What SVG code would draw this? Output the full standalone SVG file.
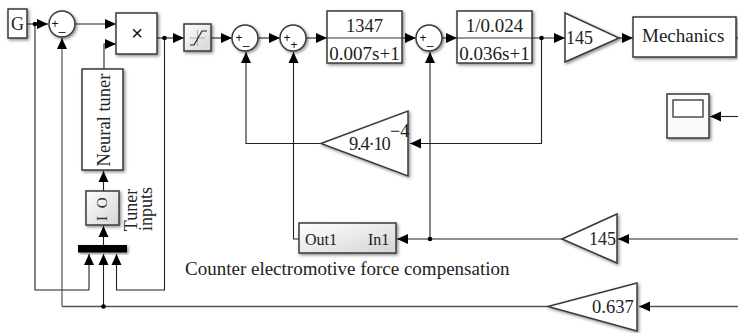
<svg xmlns="http://www.w3.org/2000/svg" width="738" height="333" viewBox="0 0 738 333">
<style>
.b{fill:#fff;stroke:#3a3a3a;stroke-width:1.5;filter:url(#sh)}
.g{fill:url(#gr);stroke:#3a3a3a;stroke-width:1.5;filter:url(#sh)}
.c{fill:none;stroke:#222;stroke-width:1.1}
.a{marker-end:url(#ah)}
.t{font-family:"Liberation Serif","Times New Roman",serif;fill:#222;font-size:18px}
.s{font-family:"Liberation Sans",Arial,sans-serif;fill:#111;font-size:12px;text-anchor:middle}
.m{text-anchor:middle}
</style>
<defs>
<marker id="ah" markerUnits="userSpaceOnUse" markerWidth="11" markerHeight="11" refX="11" refY="5.500" orient="auto"><path d="M0 0.500L11 5.500L0 10.500z" fill="#000"/></marker>
<filter id="sh" x="-20%" y="-20%" width="150%" height="150%"><feDropShadow dx="1.500" dy="1.500" stdDeviation="1.500" flood-color="#000" flood-opacity="0.450"/></filter>
<linearGradient id="gr" x1="0" y1="0" x2="1" y2="1"><stop offset="0" stop-color="#fff"/><stop offset="1" stop-color="#d4d4d4"/></linearGradient>
</defs>
<g id="connectors">
<path class="c a" d="M27 24H48"/>
<path class="c" d="M35 24V290H89"/>
<path class="c a" d="M89 290V254"/>
<path class="c a" d="M62 306.500V38" style="stroke:#444"/>
<path class="c" d="M62 306.500H548" style="stroke:#555;stroke-width:1.400"/>
<path class="c a" d="M103.500 306.500V254"/>
<path class="c a" d="M164.500 38V290H116.500V254"/>
<path class="c a" d="M75 24H116"/>
<path class="c a" d="M104 69V44H116"/>
<path class="c a" d="M103.500 191V171"/>
<path class="c a" d="M103.500 245V226"/>
<path class="c a" d="M157 38H184"/>
<path class="c a" d="M211 38H232"/>
<path class="c a" d="M258.500 38H280"/>
<path class="c a" d="M306 38H327"/>
<path class="c a" d="M402 38H416"/>
<path class="c a" d="M442 38H457"/>
<path class="c a" d="M532 38H565"/>
<path class="c a" d="M619 38H633"/>
<path class="c" d="M736 38H738"/>
<path class="c a" d="M738 116.500H710"/>
<path class="c a" d="M541.500 38V143.500H410"/>
<path class="c a" d="M321 143.500H246V52"/>
<path class="c a" d="M299 239H293.500V52"/>
<path class="c a" d="M430 239V52"/>
<path class="c a" d="M562 239H397"/>
<path class="c a" d="M738 239H618"/>
<path class="c a" d="M738 306.500H639" style="stroke:#555;stroke-width:1.400"/>
<g fill="#000"><circle cx="35" cy="24" r="2.300"/><circle cx="164.500" cy="38" r="2.300"/><circle cx="541.500" cy="38" r="2.300"/><circle cx="430" cy="239" r="2.300"/><circle cx="103.500" cy="306.500" r="2.300"/></g>
</g>
<g id="gain-source"><rect class="b" x="8" y="9" width="19" height="29"/><text class="t m" x="17.500" y="30" style="font-size:18px">G</text></g>
<g id="sum1"><circle class="b" cx="62" cy="24" r="13"/><text class="s" x="55" y="28">+</text><text class="s" x="62" y="30">_</text></g>
<g id="product"><rect class="b" x="116" y="13" width="41" height="41"/><text class="s" x="137" y="40" style="font-size:20px">×</text></g>
<g id="neural-tuner"><rect class="b" x="82" y="69" width="41" height="101"/><text class="t m" transform="translate(110 120) rotate(-90)" style="font-size:18.500px">Neural tuner</text></g>
<g id="tuner-io"><rect class="g" x="86" y="191" width="33" height="34"/><text class="t" transform="translate(107 221) rotate(-90)" style="font-size:15px;fill:#333;word-spacing:4px">I O</text></g>
<g id="tuner-mux"><rect x="78" y="245" width="49" height="7.500" fill="#000" filter="url(#sh)"/></g>
<text class="t m" transform="translate(137 210) rotate(-90)">Tuner</text>
<text class="t m" transform="translate(152 209) rotate(-90)">inputs</text>
<g id="saturation"><rect class="g" x="184" y="24" width="27" height="27"/><path d="M190 38H205M197.500 30V46" fill="none" stroke="#aaa" stroke-width="1"/><path d="M190 45H194L202 31H207" fill="none" stroke="#222" stroke-width="1.200"/></g>
<g id="sum2"><circle class="b" cx="245" cy="38" r="13"/><text class="s" x="239" y="42">+</text><text class="s" x="246" y="44">_</text></g>
<g id="sum3"><circle class="b" cx="293" cy="38" r="13"/><text class="s" x="287" y="42">+</text><text class="s" x="294" y="49">+</text></g>
<g id="tf1"><rect class="b" x="327" y="11" width="75" height="52"/><path d="M327 38H402" stroke="#333" stroke-width="1.200"/><text class="t m" x="364.500" y="32" style="font-size:18.500px">1347</text><text class="t m" x="364.500" y="60" style="font-size:19px">0.007s+1</text></g>
<g id="sum4"><circle class="b" cx="429" cy="38" r="13"/><text class="s" x="423" y="42">+</text><text class="s" x="430" y="44">_</text></g>
<g id="tf2"><rect class="b" x="457" y="11" width="75" height="52"/><path d="M457 38H532" stroke="#333" stroke-width="1.200"/><text class="t m" x="494.500" y="32" style="font-size:19px">1/0.024</text><text class="t m" x="494.500" y="60" style="font-size:19px">0.036s+1</text></g>
<g id="gain145a"><path class="b" d="M565 13V62L619 38z"/><text class="t" x="566" y="44">145</text></g>
<g id="mechanics"><rect class="b" x="633" y="17" width="103" height="40"/><text class="t" x="642" y="42" style="font-size:19px">Mechanics</text></g>
<g id="scope"><rect class="g" x="667" y="94" width="42" height="44" style="fill:#fafafa"/><rect x="673" y="100" width="30" height="17" fill="#fff" stroke="#333" stroke-width="1.300"/></g>
<g id="gain-emf"><path class="b" d="M321 143.500L408 111V176z"/><text class="t" x="349" y="150" style="font-size:18.500px;letter-spacing:-1.200px">9.4·10</text><text class="t" x="390" y="137" style="font-size:18px">−4</text></g>
<g id="emf-comp"><rect class="g" x="299" y="223" width="97" height="30"/><text class="t" x="305" y="245" style="font-size:16px">Out1</text><text class="t" x="368" y="245" style="font-size:16px">In1</text></g>
<g id="gain145b"><path class="b" d="M562 239L617 214V263z"/><text class="t" x="589" y="245">145</text></g>
<g id="gain637"><path class="b" d="M548 306.500L637 283V331z"/><text class="t" x="592" y="313" style="font-size:18.500px">0.637</text></g>
<text class="t" x="185" y="275" style="font-size:19px">Counter electromotive force compensation</text>
</svg>
